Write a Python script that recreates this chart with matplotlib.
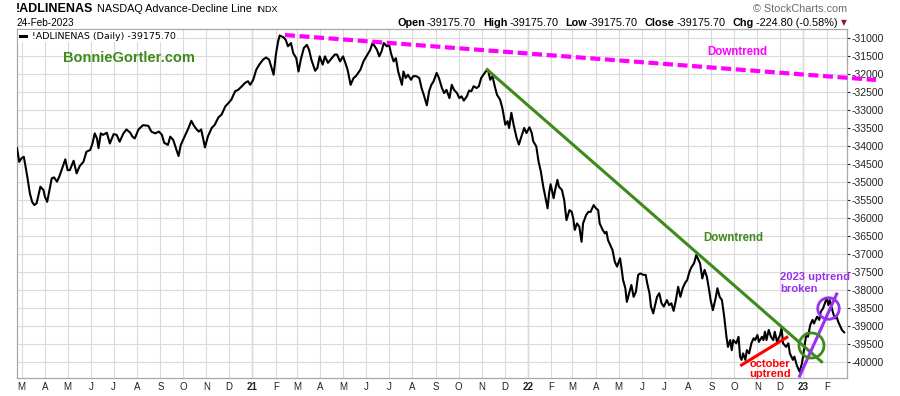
import numpy as np
import pandas as pd
import matplotlib
matplotlib.use('Agg')
from matplotlib import pyplot as plt
import matplotlib.dates as mdates

# %% Data
# days counted from 2021-01-01, value of the NASDAQ advance-decline line
day = [-312, -309, -306, -303, -301, -298, -295, -292, -289, -286, -284, -281,
       -277, -275, -272, -269, -266, -263, -259, -256, -253, -248, -245, -242,
       -237, -233, -229, -224, -220, -215, -212, -209, -206, -204, -201, -198,
       -193, -189, -184, -180, -176, -171, -167, -162, -159, -156, -151, -145,
       -138, -134, -129, -124, -120, -117, -112, -109, -105, -102, -98, -95,
       -92, -89, -85, -81, -78, -74, -71, -68, -65, -63, -59, -54, -50, -45,
       -41, -36, -32, -28, -23, -19, -14, -10, -6, -3, 1, 5, 9, 14, 18, 22, 25,
       28, 31, 34, 36, 41, 44, 47, 51, 54, 58, 61, 64, 68, 72, 75, 78, 83, 86,
       89, 93, 96, 100, 105, 109, 112, 116, 120, 123, 126, 130, 134, 137, 140,
       143, 147, 151, 156, 159, 162, 165, 168, 171, 174, 178, 181, 184, 187,
       190, 193, 198, 200, 203, 206, 210, 213, 217, 221, 224, 227, 231, 234,
       237, 240, 244, 247, 251, 254, 257, 261, 264, 267, 271, 274, 277, 280,
       284, 287, 290, 293, 297, 300, 303, 306, 309, 312, 315, 318, 321, 324,
       328, 331, 335, 338, 340, 343, 346, 350, 353, 357, 360, 363, 367, 370,
       372, 376, 379, 382, 385, 391, 393, 395, 399, 401, 404, 406, 410, 413,
       416, 420, 423, 425, 427, 430, 433, 436, 438, 442, 445, 448, 452, 455,
       458, 460, 464, 467, 469, 471, 475, 477, 480, 483, 487, 489, 491, 494,
       496, 499, 502, 505, 508, 511, 514, 518, 521, 523, 526, 528, 531, 533,
       536, 539, 542, 545, 549, 552, 555, 558, 561, 564, 567, 570, 573, 576,
       579, 582, 585, 588, 591, 593, 596, 599, 602, 605, 607, 610, 614, 616,
       619, 622, 625, 628, 630, 633, 635, 637, 641, 644, 646, 648, 650, 653,
       655, 658, 661, 664, 666, 669, 671, 675, 677, 679, 681, 684, 687, 690,
       692, 695, 699, 701, 703, 707, 710, 712, 716, 718, 721, 723, 725, 728,
       730, 732, 734, 736, 739, 742, 744, 748, 751, 753, 756, 759, 761, 763,
       765, 767, 770, 772, 774, 776, 778, 781, 784]

adl = [-34060, -34440, -34340, -34300, -34530, -34900, -35310, -35550, -35640,
       -35590, -35410, -35130, -35220, -35410, -35550, -35220, -34900, -34870,
       -34990, -34850, -34670, -34370, -34670, -34670, -34410, -34760, -34560,
       -34440, -34160, -34110, -33930, -33650, -33790, -34060, -33650, -33690,
       -33630, -33930, -33670, -33690, -33880, -33650, -33540, -33630, -33740,
       -33790, -33540, -33420, -33440, -33600, -33650, -33600, -33690, -33910,
       -33970, -33740, -33830, -34020, -34280, -33970, -33830, -33690, -33510,
       -33300, -33420, -33540, -33600, -33540, -33830, -34040, -33730, -33500,
       -33410, -33200, -33130, -32900, -32810, -32710, -32480, -32440, -32340,
       -32250, -32200, -32300, -32160, -31880, -31740, -31600, -31540, -31600,
       -31810, -32020, -31460, -31090, -30930, -30980, -31050, -31230, -31140,
       -31420, -31560, -31930, -31600, -31280, -31190, -31330, -31600, -31910,
       -31830, -31510, -31740, -31510, -31690, -31560, -31460, -31460, -31650,
       -31510, -31690, -31880, -32300, -32110, -32060, -31970, -31880, -31650,
       -31510, -31330, -31140, -31230, -31330, -31510, -31370, -31140, -31230,
       -31190, -31460, -31650, -31560, -31930, -32300, -31930, -32110, -32020,
       -32160, -32060, -32060, -32110, -32390, -32580, -32870, -32480, -32300,
       -32200, -31970, -32110, -32390, -32530, -32440, -32670, -32300, -32440,
       -32530, -32670, -32620, -32740, -32620, -32460, -32480, -32340, -32390,
       -32340, -32110, -32020, -31930, -31880, -32160, -32060, -32340, -32580,
       -32710, -32940, -33410, -33310, -33500, -33080, -33410, -33780, -33960,
       -33690, -33500, -33640, -33480, -33640, -33870, -34010, -34430, -34700,
       -35100, -35730, -35310, -35060, -35450, -35220, -34940, -35130, -35220,
       -35500, -36060, -35780, -35830, -36010, -36330, -36150, -36240, -36660,
       -36150, -35920, -35830, -35830, -35640, -35730, -35780, -36150, -36330,
       -36430, -36380, -36610, -36800, -36890, -37210, -37350, -37120, -37400,
       -37720, -37950, -38330, -38090, -37860, -38190, -38050, -37580, -37540,
       -37580, -37580, -37810, -38090, -38460, -38650, -38460, -38190, -38090,
       -38370, -38460, -38280, -38420, -38370, -38580, -38280, -37910, -38190,
       -37950, -37810, -37720, -37490, -37350, -37260, -37030, -37170, -37260,
       -37680, -37440, -37630, -38000, -38280, -38560, -38190, -37950, -38190,
       -38280, -38740, -39300, -39580, -39390, -39670, -39390, -39480, -39300,
       -39850, -39940, -39760, -39940, -39670, -39760, -39480, -39340, -39390,
       -39250, -39440, -39300, -39390, -39160, -39390, -39110, -39300, -39390,
       -39160, -39440, -39250, -39060, -39480, -39580, -39480, -39760, -39940,
       -39850, -40080, -40180, -40270, -40040, -39760, -39480, -39200, -39300,
       -38970, -38830, -38930, -38740, -38830, -38600, -38510, -38330, -38230,
       -38420, -38280, -38460, -38690, -38790, -38740, -38880, -38970, -39110,
       -39175.70]

# hand drawn trend lines: (days from 2021-01-01, value)
magenta_day, magenta_val = [43, 826], [-30917, -32167]
green_day, green_val = [311, 754], [-31881, -39992]
red_day, red_val = [648, 708], [-40083, -39314]
purple_day, purple_val = [725, 774], [-40389, -38112]
green_ring = (740, -39514)
purple_ring = (762, -38495)

month_starts = pd.date_range('2020-03-01', '2023-02-01', freq='MS')
y_ticks = np.arange(-40000, -30999, 500)

W, H = 900, 396
BASE = np.datetime64('2021-01-01')
X0 = mdates.date2num(BASE)
ARIAL = 'Liberation Sans'
GREEN = '#3f8a1d'
PURPLE = '#9a30f2'


def chain(fig, x, y, parts, size):
    '''Write text pieces one after the other, starting at pixel x.'''
    r = fig.canvas.get_renderer()
    for s, bold, gap in parts:
        t = fig.text(x / W, 1 - y / H, s, fontsize=size, family=ARIAL,
                     fontweight='bold' if bold else 'normal', va='center')
        x += t.get_window_extent(r).width + gap


def main() -> None:
    plt.rcParams['axes.unicode_minus'] = False
    fig = plt.figure(figsize=(W / 100, H / 100), dpi=100)
    ax = fig.add_axes([17 / W, 1 - 378 / H, 830 / W, 349 / H])

    dates = BASE + np.array(day, dtype='timedelta64[D]')
    ax.plot(dates, adl, color='black', lw=1.5,
            label='!ADLINENAS (Daily) -39175.70', zorder=3)

    ax.set_xlim(X0 - 312, X0 + 787.7)
    ax.set_ylim(-40444, -30750)

    # grid: months and 500 steps
    ticks = mdates.date2num(month_starts.to_pydatetime())
    labels = [f'{d.year % 100}' if d.month == 1 else d.strftime('%b')[0]
              for d in month_starts]
    ax.set_xticks(ticks)
    ax.set_xticklabels(labels)
    for lab in ax.get_xticklabels():
        lab.set_family(ARIAL)
        if lab.get_text().isdigit():
            lab.set_fontweight('bold')
            lab.set_fontsize(8)
    ax.set_yticks(y_ticks)
    ax.yaxis.set_major_formatter(plt.FuncFormatter(lambda v, p: f'{v:.0f}'))
    ax.yaxis.tick_right()
    ax.tick_params(axis='x', length=0, pad=3, labelsize=7, colors='#222222')
    ax.tick_params(axis='y', length=2, pad=1, labelsize=7.5,
                   colors='#222222', labelfontfamily=ARIAL)
    ax.grid(True, color='#dadada', lw=0.8, zorder=0)
    for d in month_starts[month_starts.month == 1]:
        ax.axvline(mdates.date2num(d), color='#a8a8a8', lw=0.9, zorder=1)
    for s in ax.spines.values():
        s.set_color('#a8a8a8')
        s.set_linewidth(0.9)

    # trend lines and rings
    ax.plot(X0 + np.array(magenta_day), magenta_val, color='#ff00ff', lw=3,
            dashes=(2.4, 1.1), clip_on=False, zorder=4)
    ax.plot(X0 + np.array(green_day), green_val, color=GREEN, lw=2.2, zorder=4)
    ax.plot(X0 + np.array(red_day), red_val, color='#ff0000', lw=2.2, zorder=4)
    ax.plot(X0 + np.array(purple_day), purple_val, color=PURPLE, lw=2.2,
            zorder=4)
    ax.plot(X0 + green_ring[0], green_ring[1], 'o', ms=18, mfc='none',
            mec=GREEN, mew=2, zorder=5)
    ax.plot(X0 + purple_ring[0], purple_ring[1], 'o', ms=15.5, mfc='none',
            mec=PURPLE, mew=2, zorder=5)

    # annotations
    kw = dict(family=ARIAL, fontweight='bold', zorder=6)
    ax.text(X0 - 164, -31556, 'BonnieGortler.com', color=GREEN, fontsize=10.5,
            ha='center', va='center', **kw)
    ax.text(X0 + 642, -31389, 'Downtrend', color='#ff00ff', fontsize=8.3,
            ha='center', va='center', **kw)
    ax.text(X0 + 637, -36556, 'Downtrend', color=GREEN, fontsize=8.3,
            ha='center', va='center', **kw)
    ax.text(X0 + 699, -37792, '2023 uptrend\nbroken', color=PURPLE,
            fontsize=8.1, ha='left', va='center', linespacing=1.25, **kw)
    ax.text(X0 + 686, -40192, 'october\nuptrend', color='#ff0000',
            fontsize=8, ha='center', va='center', linespacing=1.1, **kw)

    leg = ax.legend(loc='upper left', frameon=True, fancybox=False,
                    facecolor='white', edgecolor='none', framealpha=1,
                    handlelength=0.7, handletextpad=0.6, borderpad=0.15,
                    borderaxespad=0.15, prop={'family': 'DejaVu Sans',
                                              'size': 6.8})
    leg.get_lines()[0].set_linewidth(2.2)
    leg.set_zorder(7)

    # header
    fig.text(16 / W, 1 - 9.5 / H, '!ADLINENAS', fontsize=9,
             fontweight='bold', family=ARIAL, va='center')
    fig.text(97 / W, 1 - 9.5 / H, 'NASDAQ Advance-Decline Line', fontsize=7.8,
             family=ARIAL, va='center')
    fig.text(256 / W, 1 - 9.5 / H, 'INDX', fontsize=6.5, family=ARIAL,
             va='center')
    fig.text(16 / W, 1 - 22.5 / H, '24-Feb-2023', fontsize=7.2, family=ARIAL,
             va='center')
    fig.text(847 / W, 1 - 9 / H, '\u00a9 StockCharts.com', fontsize=7.8,
             family=ARIAL, color='#6a6a6a', ha='right', va='center')
    chain(fig, 397, 22.5, [('Open', True, 2), ('-39175.70', False, 7),
                           ('High', True, 2), ('-39175.70', False, 7),
                           ('Low', True, 2), ('-39175.70', False, 7),
                           ('Close', True, 2), ('-39175.70', False, 7),
                           ('Chg', True, 2), ('-224.80 (-0.58%)', False, 3)],
          7.8)
    fig.text(844 / W, 1 - 22.5 / H, '\u25bc', fontsize=5.5, color='#8b1a2a',
             family='DejaVu Sans', ha='center', va='center')

    fig.savefig('out.png', dpi=100)


if __name__ == '__main__':
    main()
